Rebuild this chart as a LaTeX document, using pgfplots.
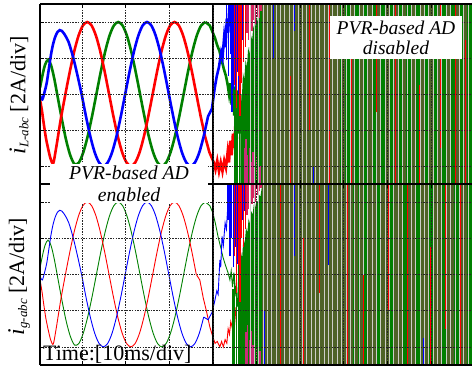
\documentclass[border=0pt]{standalone}
\usepackage{fontspec}
\setmainfont{Liberation Serif}
\usepackage{pgfplots}
\pgfplotsset{compat=1.18}
\usepackage{pgfplotstable}

\definecolor{mgreen}{RGB}{0,128,0}
\definecolor{mred}{RGB}{255,0,0}
\definecolor{mblue}{RGB}{0,0,255}
\definecolor{molive}{RGB}{78,98,38}
\definecolor{mgrey}{RGB}{205,205,200}
\definecolor{mpink}{RGB}{215,35,95}
\definecolor{mpinkb}{RGB}{200,45,120}

\pgfplotstableread{
t y
0.37 -0.3
0.8 -0.9
1.2 -1.6
1.7 -2.4
2.2 -3.0
2.8 -3.6
3.4 -3.85
4.0 -3.1
4.6 -2.2
5.2 -1.3
6.2 0
7.2 1.236
8.2 2.351
9.2 3.236
10.2 3.804
11.2 4
12.2 3.804
13.2 3.236
14.2 2.351
15.2 1.236
16.2 0
17.2 -1.236
18.2 -2.351
19.2 -3.236
20.2 -3.804
21.2 -4
22.2 -3.804
23.2 -3.236
24.2 -2.351
25.2 -1.236
26.2 0
27.2 1.236
28.2 2.351
29.2 3.236
30.2 3.804
31.2 4
32.2 3.804
33.2 3.236
34.2 2.351
35.2 1.236
36.2 0
}\redtab

\pgfplotstableread{
t y
0.37 0.35
0.9 1.0
1.5 1.6
2.2 1.9
2.9 1.6
3.6 0.9
4.3 0.0
5.3 -1.3
6.3 -2.5
7.3 -3.4
8.3 -3.9
9.3 -3.804
10.3 -3.236
11.3 -2.351
12.3 -1.236
13.3 0
14.3 1.236
15.3 2.351
16.3 3.236
17.3 3.804
18.3 4
19.3 3.804
20.3 3.236
21.3 2.351
22.3 1.236
23.3 0
24.3 -1.236
25.3 -2.351
26.3 -3.236
27.3 -3.804
28.3 -4
29.3 -3.804
30.3 -3.236
31.3 -2.351
32.3 -1.236
33.3 0
34.3 1.236
35.3 2.351
36.3 3.236
37.3 3.804
38.3 4
}\greentab

\pgfplotstableread{
t y
0.37 -0.1
0.9 -0.3
1.4 0.1
1.9 0.6
2.4 1.4
2.9 2.2
3.4 2.8
3.9 3.2
4.4 3.45
4.9 3.55
5.4 3.5
5.9 3.35
6.9 2.9
7.9 2.1
8.9 1.1
9.9 0
10.9 -1.236
11.9 -2.351
12.9 -3.236
13.9 -3.804
14.9 -4
15.9 -3.804
16.9 -3.236
17.9 -2.351
18.9 -1.236
19.9 0
20.9 1.236
21.9 2.351
22.9 3.236
23.9 3.804
24.9 4
25.9 3.804
26.9 3.236
27.9 2.351
28.9 1.236
29.9 0
30.9 -1.236
31.9 -2.351
32.9 -3.236
33.9 -3.804
34.9 -4
35.9 -3.804
36.9 -3.236
37.9 -2.351
}\bluetab

\pgfplotsset{
  panel/.style={
    scale only axis, width=432pt,
    xmin=0.37, xmax=99.4, ymin=-5, ymax=5,
    xtick={10,20,...,90}, ytick={-4,-2,0,2,4},
    xticklabels={}, yticklabels={},
    axis y line*=left,
    grid=major,
    major grid style={black!85, line width=0.6pt, dash pattern=on 1.5pt off 1.2pt},
    axis line style={black, line width=1.2pt},
    tick style={black, line width=0.8pt},
    major tick length=4pt,
    tick align=inside,
    axis on top,
  },
  bars/.style={line width=1.3pt, unbounded coords=jump},
}

\begin{document}
\begin{tikzpicture}
\useasboundingbox (-40pt,-183pt) rectangle (432pt,184pt);

% ===== top panel: i_L =====
\begin{axis}[panel, at={(0pt,0pt)}, anchor=south west, height=180pt]
\addplot[mgreen, line width=2.6pt, smooth] table[x=t,y=y]{\greentab};
\addplot[mgreen, line width=2.6pt] coordinates {(38.3,4)(39.3,3.804)(40.0,3.4)(40.5,3.1)(41.0,2.7)(41.5,2.4)(42.0,1.9)(42.5,1.4)(43.0,1.0)(43.4,0.5)(43.7,0.0)(44.0,0.6)(44.3,-0.6)(44.6,0.7)(44.9,-1.2)(45.2,0.4)(45.5,-1.8)(45.8,0.2)(46.1,-2.2)(46.3,0)};
\addplot[mred, line width=2.6pt, smooth] table[x=t,y=y]{\redtab};
\addplot[mred, line width=2.6pt] coordinates {(36.2,0)(37.2,-1.236)(38.2,-2.351)(39.2,-3.236)(40.2,-3.8)(40.6,-4.2)(41.0,-3.7)(41.4,-4.3)(41.8,-3.8)(42.2,-4.3)(42.6,-3.7)(43.0,-4.1)(43.4,-3.2)(43.7,-3.8)(44.0,-2.6)(44.3,-3.4)(44.6,-2.2)(44.9,-3.0)(45.2,-1.5)(45.5,-2.5)};
\addplot[mblue, line width=2.6pt, smooth] table[x=t,y=y]{\bluetab};
\addplot[mblue, line width=2.6pt] coordinates {(37.9,-2.351)(38.9,-1.236)(39.8,-0.8)(40.4,0.3)(40.9,1.0)(41.4,1.5)(41.9,2.3)(42.2,2.0)(42.6,3.2)(42.9,2.6)(43.2,4.2)(43.5,3.4)(43.9,5.5)};
% blue bars
\addplot[mblue, bars] coordinates {(43.2,1.9)(43.2,5.5)(43.2,nan)(43.6,1.0)(43.6,5.5)(43.6,nan)(44.0,2.2)(44.0,5.5)(44.0,nan)(44.4,-1.0)(44.4,5.5)(44.4,nan)(44.8,0.3)(44.8,5.5)(44.8,nan)(45.2,-0.6)(45.2,5.5)(45.2,nan)(45.6,1.2)(45.6,5.5)(45.6,nan)(46.0,0.0)(46.0,5.5)(46.0,nan)(46.4,2.0)(46.4,5.5)(46.4,nan)(46.8,3.0)(46.8,5.5)};
% green bars
\addplot[mgreen, bars] coordinates {(44.9,-5.5)(44.9,-0.8)(44.9,nan)(45.3,-5.5)(45.3,0.2)(45.3,nan)(45.7,-5.5)(45.7,-0.3)(45.7,nan)(46.1,-5.5)(46.1,0.8)};
% green area
\addplot[fill=mgreen, draw=none] coordinates {(46.3,-5.5)(46.3,0.0)(46.6,-0.5)(46.9,1.2)(47.2,0.8)(47.5,1.9)(47.8,1.5)(48.1,2.6)(48.4,2.2)(48.7,3.3)(49.0,3.0)(49.3,3.8)(49.6,3.5)(49.9,4.3)(50.2,4.0)(50.5,4.7)(50.8,4.5)(51.1,5.5)(99.6,5.5)(99.6,-5.5)} --cycle;
\addplot[fill=molive, draw=none] coordinates {(51.3,-5.5)(51.3,5.5)(69.1,5.5)(69.1,-5.5)} --cycle;
% red / pink bars
\addplot[mred, bars] coordinates {(45.0,0.5)(45.0,5.5)(45.0,nan)(45.4,-0.8)(45.4,5.5)(45.4,nan)(45.8,1.0)(45.8,5.5)(45.8,nan)(46.2,-1.2)(46.2,5.5)(46.2,nan)(46.6,0.6)(46.6,5.5)(46.6,nan)(47.0,1.8)(47.0,5.5)(47.0,nan)(47.4,2.6)(47.4,5.5)};
\addplot[mpink, bars] coordinates {(47.8,3.4)(47.8,5.5)(47.8,nan)(48.2,3.0)(48.2,5.5)(48.2,nan)(48.6,3.8)(48.6,5.5)(48.6,nan)(49.0,3.5)(49.0,5.5)(49.0,nan)(49.4,4.1)(49.4,5.5)(49.4,nan)(49.8,3.9)(49.8,5.5)(49.8,nan)(50.2,4.3)(50.2,5.5)(50.2,nan)(50.6,4.2)(50.6,5.5)(50.6,nan)(51.0,4.6)(51.0,5.5)};
\addplot[mpinkb, bars] coordinates {(47.2,-5.5)(47.2,-3.0)(47.2,nan)(47.6,-5.5)(47.6,-2.5)(47.6,nan)(48.0,-5.5)(48.0,-3.4)(48.0,nan)(48.4,-5.5)(48.4,-3.0)(48.4,nan)(48.8,-5.5)(48.8,-3.8)(48.8,nan)(49.2,-5.5)(49.2,-3.2)(49.2,nan)(49.6,-5.5)(49.6,-3.9)(49.6,nan)(50.0,-5.5)(50.0,-3.5)(50.0,nan)(50.4,-5.5)(50.4,-4.2)(50.4,nan)(50.8,-5.5)(50.8,-4.0)};
% olive stripes
\addplot[molive, line width=3.2pt] coordinates {(70,-6)(70,6)(72,6)(72,-6)(74,-6)(74,6)(76,6)(76,-6)(78,-6)(78,6)(80,6)(80,-6)(82,-6)(82,6)(84,6)(84,-6)(86,-6)(86,6)(88,6)(88,-6)(90,-6)(90,6)(92,6)(92,-6)(94,-6)(94,6)(96,6)(96,-6)(98,-6)(98,6)};
% light grey lines
\addplot[mgrey, line width=0.85pt] coordinates {(48.5,-6)(48.5,6)(49.5,6)(49.5,-6)(50.5,-6)(50.5,6)(51.5,6)(51.5,-6)(52.5,-6)(52.5,6)(53.5,6)(53.5,-6)(54.5,-6)(54.5,6)(55.5,6)(55.5,-6)(56.5,-6)(56.5,6)(57.5,6)(57.5,-6)(58.5,-6)(58.5,6)(59.5,6)(59.5,-6)(60.5,-6)(60.5,6)(61.5,6)(61.5,-6)(62.5,-6)(62.5,6)(63.5,6)(63.5,-6)(64.5,-6)(64.5,6)(65.5,6)(65.5,-6)(66.5,-6)(66.5,6)(67.5,6)(67.5,-6)(68.5,-6)(68.5,6)(69.5,6)(69.5,-6)(70.5,-6)(70.5,6)(71.5,6)(71.5,-6)(72.5,-6)(72.5,6)(73.5,6)(73.5,-6)(74.5,-6)(74.5,6)(75.5,6)(75.5,-6)(76.5,-6)(76.5,6)(77.5,6)(77.5,-6)(78.5,-6)(78.5,6)(79.5,6)(79.5,-6)(80.5,-6)(80.5,6)(81.5,6)(81.5,-6)(82.5,-6)(82.5,6)(83.5,6)(83.5,-6)(84.5,-6)(84.5,6)(85.5,6)(85.5,-6)(86.5,-6)(86.5,6)(87.5,6)(87.5,-6)(88.5,-6)(88.5,6)(89.5,6)(89.5,-6)(90.5,-6)(90.5,6)(91.5,6)(91.5,-6)(92.5,-6)(92.5,6)(93.5,6)(93.5,-6)(94.5,-6)(94.5,6)(95.5,6)(95.5,-6)(96.5,-6)(96.5,6)(97.5,6)(97.5,-6)(98.5,-6)(98.5,6)(99.5,6)(99.5,-6)};
% sparse red and blue lines
\addplot[mred, line width=1pt, unbounded coords=jump] coordinates {(57.8,-5.5)(57.8,1.0)(57.8,nan)(62.2,-2)(62.2,5.5)(62.2,nan)(66.8,-5.5)(66.8,5.5)(66.8,nan)(71.8,-5.5)(71.8,2.0)(71.8,nan)(77.6,-1)(77.6,5.5)(77.6,nan)(81.8,-5.5)(81.8,5.5)(81.8,nan)(87.4,-5.5)(87.4,0.5)(87.4,nan)(92.2,-3)(92.2,5.5)(92.2,nan)(95.6,-5.5)(95.6,5.5)(95.6,nan)(97.8,-5.5)(97.8,3)};
\addplot[mblue, line width=1pt, unbounded coords=jump] coordinates {(53.8,2)(53.8,5.5)(53.8,nan)(58.6,3.5)(58.6,5.5)(58.6,nan)(63.0,-5.5)(63.0,-4)};
\addplot[black, line width=2pt] coordinates {(40,-5.5)(40,5.5)};
\end{axis}

% ===== bottom panel: i_g =====
\begin{axis}[panel, at={(0pt,0pt)}, anchor=north west, height=181pt]
\addplot[mgreen, line width=0.9pt, smooth] table[x=t,y=y]{\greentab};
\addplot[mgreen, line width=0.9pt] coordinates {(38.3,4)(39.3,3.804)(40.0,3.4)(40.6,2.8)(41.2,2.07)(41.8,1.5)(42.3,0.97)(42.9,0.5)(43.5,0.08)(43.9,-0.3)(44.2,0.2)(44.5,-0.7)(44.8,0.1)(45.1,-1.2)(45.4,-0.3)(45.7,-1.8)};
\addplot[mred, line width=0.9pt, smooth] table[x=t,y=y]{\redtab};
\addplot[mred, line width=0.9pt] coordinates {(36.2,0)(37.0,-0.3)(37.8,-1.3)(38.6,-2.1)(39.3,-2.9)(40.0,-3.45)(40.5,-3.8)(41.0,-3.7)(41.6,-4.0)(42.0,-3.7)(42.4,-4.0)(42.8,-3.6)(43.2,-3.8)(43.5,-3.0)(43.8,-3.3)(44.1,-2.6)(44.4,-2.9)(44.7,-2.2)(45.0,-2.7)(45.3,-1.8)};
\addplot[mblue, line width=0.9pt, smooth] table[x=t,y=y]{\bluetab};
\addplot[mblue, line width=0.9pt] coordinates {(37.9,-2.351)(38.9,-2.5)(39.8,-2.1)(40.4,-1.5)(40.9,-0.9)(41.2,-1.1)(41.6,0.8)(41.8,0.4)(42.1,2.1)(42.4,1.6)(42.8,2.85)(43.1,2.5)(43.5,4.1)(43.9,5.5)};
% blue bars
\addplot[mblue, bars] coordinates {(43.5,3.0)(43.5,5.5)(43.5,nan)(43.9,1.0)(43.9,5.5)(43.9,nan)(44.3,2.0)(44.3,5.5)(44.3,nan)(44.7,0.4)(44.7,5.5)(44.7,nan)(45.1,1.5)(45.1,5.5)(45.1,nan)(45.5,0.6)(45.5,5.5)(45.5,nan)(45.9,2.2)(45.9,5.5)(45.9,nan)(46.3,1.2)(46.3,5.5)(46.3,nan)(46.7,3.0)(46.7,5.5)(46.7,nan)(47.1,3.5)(47.1,5.5)};
% green bars
\addplot[mgreen, bars] coordinates {(44.6,-5.5)(44.6,-0.8)(44.6,nan)(45.0,-5.5)(45.0,0.0)(45.0,nan)(45.4,-5.5)(45.4,-0.5)(45.4,nan)(45.8,-5.5)(45.8,1.0)(45.8,nan)(46.2,-5.5)(46.2,0.5)};
% green area
\addplot[fill=mgreen, draw=none] coordinates {(46.4,-5.5)(46.4,1.3)(46.7,0.9)(47.0,2.0)(47.3,1.7)(47.6,2.6)(47.9,2.3)(48.2,3.1)(48.5,2.8)(48.8,3.5)(49.1,3.3)(49.4,3.9)(49.7,3.7)(50.0,4.1)(50.3,4.0)(50.6,4.4)(50.9,4.3)(51.2,4.8)(51.5,5.5)(99.6,5.5)(99.6,-5.5)} --cycle;
\addplot[fill=molive, draw=none] coordinates {(51.3,-5.5)(51.3,5.5)(72.2,5.5)(72.2,-5.5)} --cycle;
% red / pink bars
\addplot[mred, bars] coordinates {(45.0,1.0)(45.0,5.5)(45.0,nan)(45.4,-1.0)(45.4,5.5)(45.4,nan)(45.8,0.5)(45.8,5.5)(45.8,nan)(46.2,-1.5)(46.2,5.5)(46.2,nan)(46.6,2.0)(46.6,5.5)(46.6,nan)(47.0,1.5)(47.0,5.5)(47.0,nan)(47.4,2.5)(47.4,5.5)};
\addplot[mpink, bars] coordinates {(47.8,3.3)(47.8,5.5)(47.8,nan)(48.2,3.6)(48.2,5.5)(48.2,nan)(48.6,3.4)(48.6,5.5)(48.6,nan)(49.0,3.9)(49.0,5.5)(49.0,nan)(49.4,4.2)(49.4,5.5)(49.4,nan)(49.8,4.0)(49.8,5.5)(49.8,nan)(50.2,4.4)(50.2,5.5)(50.2,nan)(50.6,4.6)(50.6,5.5)(50.6,nan)(51.0,4.8)(51.0,5.5)};
\addplot[mpinkb, bars] coordinates {(47.6,-5.5)(47.6,-3.2)(47.6,nan)(48.0,-5.5)(48.0,-2.8)(48.0,nan)(48.4,-5.5)(48.4,-3.6)(48.4,nan)(48.8,-5.5)(48.8,-3.1)(48.8,nan)(49.2,-5.5)(49.2,-3.9)(49.2,nan)(49.6,-5.5)(49.6,-3.4)(49.6,nan)(50.0,-5.5)(50.0,-4.0)(50.0,nan)(50.4,-5.5)(50.4,-3.6)(50.4,nan)(50.8,-5.5)(50.8,-4.2)};
% olive stripes
\addplot[molive, line width=3.2pt] coordinates {(73,-6)(73,6)(74,6)(74,-6)(76,-6)(76,6)(77,6)(77,-6)(79,-6)(79,6)(80,6)(80,-6)(82,-6)(82,6)(83,6)(83,-6)(85,-6)(85,6)(86,6)(86,-6)(88,-6)(88,6)(89,6)(89,-6)(91,-6)(91,6)(92,6)(92,-6)(94,-6)(94,6)(95,6)(95,-6)(97,-6)(97,6)(98,6)(98,-6)};
% light grey lines
\addplot[mgrey, line width=0.85pt] coordinates {(48.5,-6)(48.5,6)(49.5,6)(49.5,-6)(50.5,-6)(50.5,6)(51.5,6)(51.5,-6)(52.5,-6)(52.5,6)(53.5,6)(53.5,-6)(54.5,-6)(54.5,6)(55.5,6)(55.5,-6)(56.5,-6)(56.5,6)(57.5,6)(57.5,-6)(58.5,-6)(58.5,6)(59.5,6)(59.5,-6)(60.5,-6)(60.5,6)(61.5,6)(61.5,-6)(62.5,-6)(62.5,6)(63.5,6)(63.5,-6)(64.5,-6)(64.5,6)(65.5,6)(65.5,-6)(66.5,-6)(66.5,6)(67.5,6)(67.5,-6)(68.5,-6)(68.5,6)(69.5,6)(69.5,-6)(70.5,-6)(70.5,6)(71.5,6)(71.5,-6)(72.5,-6)(72.5,6)(73.5,6)(73.5,-6)(74.5,-6)(74.5,6)(75.5,6)(75.5,-6)(76.5,-6)(76.5,6)(77.5,6)(77.5,-6)(78.5,-6)(78.5,6)(79.5,6)(79.5,-6)(80.5,-6)(80.5,6)(81.5,6)(81.5,-6)(82.5,-6)(82.5,6)(83.5,6)(83.5,-6)(84.5,-6)(84.5,6)(85.5,6)(85.5,-6)(86.5,-6)(86.5,6)(87.5,6)(87.5,-6)(88.5,-6)(88.5,6)(89.5,6)(89.5,-6)(90.5,-6)(90.5,6)(91.5,6)(91.5,-6)(92.5,-6)(92.5,6)(93.5,6)(93.5,-6)(94.5,-6)(94.5,6)(95.5,6)(95.5,-6)(96.5,-6)(96.5,6)(97.5,6)(97.5,-6)(98.5,-6)(98.5,6)(99.5,6)(99.5,-6)};
% sparse red and blue lines
\addplot[mred, line width=1pt, unbounded coords=jump] coordinates {(55.6,-5.5)(55.6,5.5)(55.6,nan)(60.8,-5.5)(60.8,2)(60.8,nan)(64.4,-1)(64.4,5.5)(64.4,nan)(70.8,-5.5)(70.8,5.5)(70.8,nan)(74.6,-5.5)(74.6,0)(74.6,nan)(80.2,-2)(80.2,5.5)(80.2,nan)(84.6,-5.5)(84.6,5.5)(84.6,nan)(89.8,-5.5)(89.8,1.5)(89.8,nan)(93.4,-3)(93.4,5.5)(93.4,nan)(96.8,-5.5)(96.8,5.5)};
\addplot[mblue, line width=1pt, unbounded coords=jump] coordinates {(51.8,-5.5)(51.8,-2)(51.8,nan)(58.8,1)(58.8,5.5)(58.8,nan)(66.4,0.5)(66.4,5.5)(66.4,nan)(88.2,-5.5)(88.2,-3.5)};
\addplot[black, line width=2pt] coordinates {(40,-5.5)(40,5.5)};
\end{axis}

% ===== annotations =====
\node[fill=white, inner sep=0pt, minimum width=132pt, minimum height=43pt, align=center,
      font=\fontsize{19.5}{20}\selectfont\itshape] at (356pt,146.5pt) {PVR-based AD\\disabled};
\node[fill=white, inner sep=0pt, minimum width=158pt, minimum height=39pt, align=center,
      font=\fontsize{19.7}{22}\selectfont\itshape] at (89pt,0.5pt) {PVR-based AD\\enabled};
\node[anchor=base west, inner sep=0pt, font=\fontsize{22}{24}\selectfont] at (3pt,-176pt) {Time:[10ms/div]};
\node[rotate=90, inner sep=0pt, font=\fontsize{22}{24}\selectfont] at (-21pt,88.5pt)
  {{\fontsize{24}{24}\selectfont\textit{i}}{\fontsize{13}{13}\selectfont\raisebox{-3pt}{\textit{L-abc}}}\ [2A/div]};
\node[rotate=90, inner sep=0pt, font=\fontsize{22}{24}\selectfont] at (-21pt,-92.5pt)
  {{\fontsize{24}{24}\selectfont\textit{i}}{\fontsize{13}{13}\selectfont\raisebox{-3pt}{\textit{g-abc}}}\ [2A/div]};
\end{tikzpicture}
\end{document}
